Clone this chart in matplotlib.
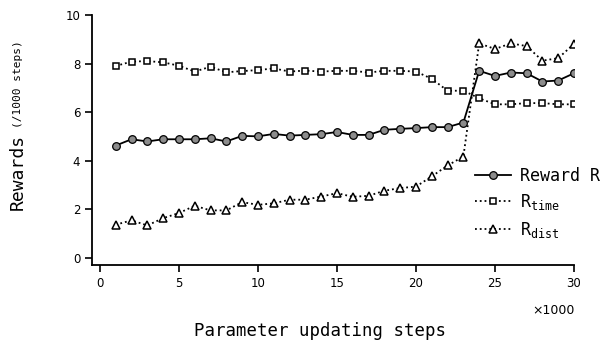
import matplotlib
matplotlib.use("Agg")
import matplotlib.pyplot as plt

# x positions in thousands of updating steps
steps = list(range(1, 31))

reward_r = [4.62, 4.88, 4.79, 4.88, 4.88, 4.88, 4.92, 4.79, 5.02, 5.00,
            5.10, 5.03, 5.06, 5.09, 5.18, 5.06, 5.06, 5.27, 5.31, 5.34,
            5.38, 5.38, 5.57, 7.70, 7.49, 7.63, 7.60, 7.26, 7.30, 7.60]
r_time = [7.90, 8.08, 8.10, 8.05, 7.91, 7.67, 7.87, 7.64, 7.69, 7.73,
          7.80, 7.67, 7.71, 7.67, 7.70, 7.70, 7.63, 7.70, 7.70, 7.67,
          7.37, 6.88, 6.88, 6.57, 6.32, 6.32, 6.37, 6.37, 6.32, 6.32]
r_dist = [1.36, 1.54, 1.33, 1.63, 1.84, 2.14, 1.95, 1.95, 2.29, 2.18,
          2.24, 2.39, 2.39, 2.52, 2.66, 2.51, 2.55, 2.76, 2.87, 2.93,
          3.35, 3.80, 4.17, 8.83, 8.60, 8.83, 8.72, 8.12, 8.22, 8.81]

x_ticks = [0, 5, 10, 15, 20, 25, 30]
y_ticks = [0, 2, 4, 6, 8, 10]

MONO = "DejaVu Sans Mono"
plt.rcParams["mathtext.fontset"] = "custom"
plt.rcParams["mathtext.rm"] = MONO

fig = plt.figure(figsize=(6.03, 3.43), dpi=100)
ax = fig.add_axes([92 / 603, 1 - 265 / 343, 482 / 603, 250 / 343])

ax.plot(steps, reward_r, "-", color="black", lw=1.3, marker="o", ms=5.5,
        mfc="#8c8c8c", mec="black", mew=0.9, label="Reward R")
ax.plot(steps, r_time, ":", color="black", lw=1.3, marker="s", ms=5,
        mfc="white", mec="black", mew=1.1, label=r"R$_{\mathrm{time}}$")
ax.plot(steps, r_dist, ":", color="black", lw=1.3, marker="^", ms=5.5,
        mfc="white", mec="black", mew=1.1, label=r"R$_{\mathrm{dist}}$")

ax.set_xlim(-0.5, 30)
ax.set_ylim(-0.3, 10)
ax.set_xticks(x_ticks)
ax.set_yticks(y_ticks)
ax.tick_params(labelsize=8.5, width=1.2, length=5)
for side in ("top", "right"):
    ax.spines[side].set_visible(False)
for side in ("left", "bottom"):
    ax.spines[side].set_linewidth(1.3)

ax.legend(loc="upper left", bbox_to_anchor=(0.78, 0.42), frameon=False,
          prop={"family": MONO, "size": 12}, handlelength=2.2,
          handletextpad=0.5, labelspacing=0.45, borderaxespad=0)

fig.text(0.53, 0.035, "Parameter updating steps", ha="center", va="center",
         fontsize=12.5, family=MONO)
fig.text(0.918, 0.096, "\u00d71000", ha="center", va="center", fontsize=9)
fig.text(0.03, 0.498, "Rewards", rotation=90, ha="center", va="center",
         fontsize=13, family=MONO)
fig.text(0.03, 0.755, "(/1000 steps)", rotation=90, ha="center", va="center",
         fontsize=8, family=MONO)

fig.savefig("out.png", dpi=100)
